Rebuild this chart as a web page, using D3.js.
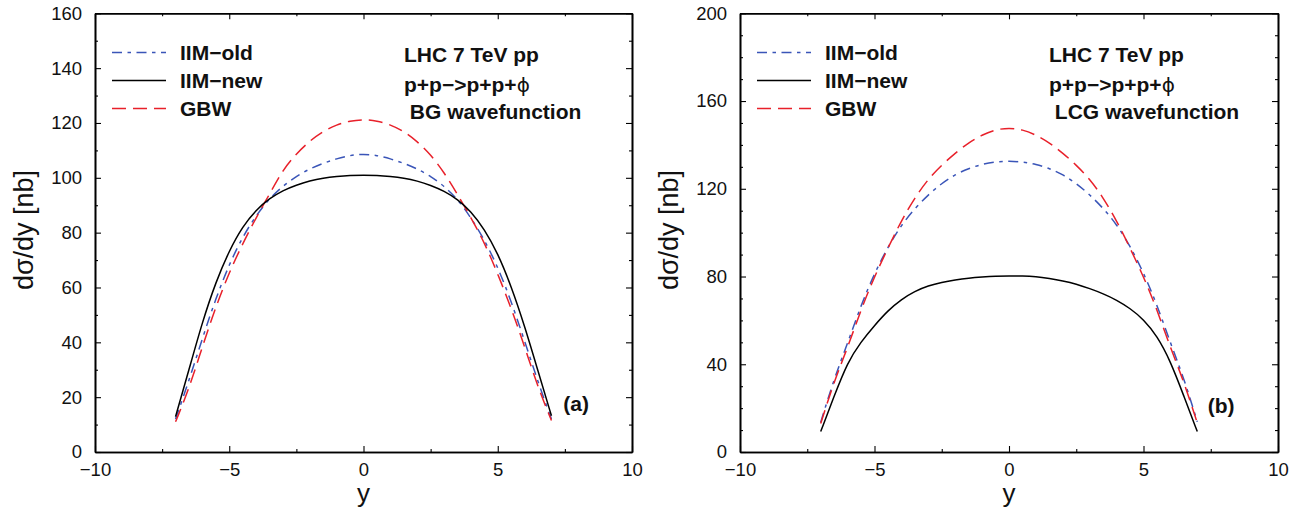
<!DOCTYPE html>
<html>
<head>
<meta charset="utf-8">
<script src="https://cdn.jsdelivr.net/npm/d3@7"></script>
<style>
  html, body { margin: 0; padding: 0; background: #fff; }
  svg { display: block; font-family: "Liberation Sans", Arial, Helvetica, sans-serif; }
</style>
</head>
<body>
<svg id="chart" width="1310" height="509"></svg>
<script>
// ---------------- data ----------------
const rapidity = [-7,-6.5,-6,-5.5,-5,-4.5,-4,-3.5,-3,-2.5,-2,-1.5,-1,-0.5,0,0.5,1,1.5,2,2.5,3,3.5,4,4.5,5,5.5,6,6.5,7];

// Panel (a): BG wavefunction
const bgIIMold = [12,26,41.5,56,68.5,78.5,86.3,92.5,97,100.6,103.3,105.3,107,108.2,108.7,108.2,107,105.3,103.3,100.6,97,92.3,85.5,77.5,67.5,55,40.5,25.5,12];
const bgIIMnew = [12.9,30,47.5,62,73.5,82.3,88.3,92.5,95.4,97.4,98.9,99.9,100.5,100.9,101,100.9,100.5,99.9,98.9,97.3,95.2,92.2,87.8,81.3,72.5,60.5,46,29.5,13.2];
const bgGBW    = [11,23,38.5,53,65.5,76,85.5,94,103,108.8,113.5,117,119.4,120.8,121.3,120.8,119.4,117,113.3,108.5,102,94,85.5,76.5,65,52.5,38.5,23.5,11.5];

// Panel (b): LCG wavefunction
const lcgIIMold = [13.5,33.5,49.5,67,81.5,93.5,103.5,111,117.3,122.5,126.5,129.3,131.2,132.3,132.6,132.3,131.2,129.3,126.5,122.5,117.3,111.2,103.8,94,81.8,67.2,49.7,33.7,13.8];
const lcgIIMnew = [9.3,25.5,41,50.3,57.7,64.5,69.6,73.3,75.8,77.4,78.5,79.3,79.8,80.2,80.3,80.3,80,79.1,78,76.6,74.5,72.2,69.3,65.5,60.5,53,41.5,25.5,9.3];
const lcgGBW    = [13,32.2,47.5,65,80,93,105.5,116,124.5,130.8,136.3,141,144.6,147,147.8,147,144.6,141,136.3,130.8,124.5,116,105.5,93,80,65,47.5,32.2,13.2];

const seriesNames = ["IIM\u2212old", "IIM\u2212new", "GBW"];
const xMajorTicks = [-10,-5,0,5,10];
const xMinorTicks = [-7.5,-2.5,2.5,7.5];
const yMajorTicksA = [0,20,40,60,80,100,120,140,160];
const yMinorTicksA = [10,30,50,70,90,110,130,150];
const yMajorTicksB = [0,40,80,120,160,200];
const yMinorTicksB = [10,20,30,50,60,70,90,100,110,130,140,150,170,180,190];
const annotA = ["LHC 7 TeV pp", "p+p\u2212>p+p+", " BG wavefunction"];
const annotB = ["LHC 7 TeV pp", "p+p\u2212>p+p+", " LCG wavefunction"];

// ---------------- styles ----------------
const styles = [
  { color: "#3a55b8", dash: "10,5.5,3.5,5.5" },
  { color: "#000000", dash: null },
  { color: "#e8202a", dash: "14,7" }
];

const svg = d3.select("#chart");

function panel(opts) {
  const { left, right, top, bottom, yMax, yMajor, yMinor, data, annot, tag, tagX, tagY } = opts;
  const x = d3.scaleLinear().domain([-10, 10]).range([left, right]);
  const y = d3.scaleLinear().domain([0, yMax]).range([bottom, top]);
  const g = svg.append("g");

  g.append("g").attr("transform", `translate(0,${bottom})`)
    .call(d3.axisBottom(x).tickValues(xMajorTicks).tickSize(-6).tickSizeOuter(0).tickPadding(11));
  g.append("g").attr("transform", `translate(0,${bottom})`)
    .call(d3.axisBottom(x).tickValues(xMinorTicks).tickSize(-3).tickSizeOuter(0).tickFormat(""));
  g.append("g").attr("transform", `translate(0,${top})`)
    .call(d3.axisTop(x).tickValues(xMajorTicks).tickSize(-6).tickSizeOuter(0).tickFormat(""));
  g.append("g").attr("transform", `translate(0,${top})`)
    .call(d3.axisTop(x).tickValues(xMinorTicks).tickSize(-3).tickSizeOuter(0).tickFormat(""));
  g.append("g").attr("transform", `translate(${left},0)`)
    .call(d3.axisLeft(y).tickValues(yMajor).tickSize(-6).tickSizeOuter(0).tickPadding(13));
  g.append("g").attr("transform", `translate(${left},0)`)
    .call(d3.axisLeft(y).tickValues(yMinor).tickSize(-3).tickSizeOuter(0).tickFormat(""));
  g.append("g").attr("transform", `translate(${right},0)`)
    .call(d3.axisRight(y).tickValues(yMajor).tickSize(-6).tickSizeOuter(0).tickFormat(""));
  g.append("g").attr("transform", `translate(${right},0)`)
    .call(d3.axisRight(y).tickValues(yMinor).tickSize(-3).tickSizeOuter(0).tickFormat(""));

  g.selectAll(".domain").attr("stroke", "#000").attr("stroke-width", 1.6);
  g.selectAll(".tick line").attr("stroke", "#000").attr("stroke-width", 1.1);
  g.selectAll(".tick text").attr("font-size", "18.5px").attr("fill", "#111")
    .attr("font-family", "'Liberation Sans', Arial, sans-serif");

  const line = d3.line()
    .x((d, i) => x(rapidity[i]))
    .y(d => y(d))
    .curve(d3.curveBasis);
  [0, 2, 1].forEach(k => {
    g.append("path")
      .datum(data[k])
      .attr("d", line)
      .attr("fill", "none")
      .attr("stroke", styles[k].color)
      .attr("stroke-width", 1.5)
      .attr("stroke-dasharray", styles[k].dash);
  });

  const lg = g.append("g");
  seriesNames.forEach((name, k) => {
    const base = 60 + k * 28;
    lg.append("line")
      .attr("x1", left + 17).attr("x2", left + 71)
      .attr("y1", base - 7.5).attr("y2", base - 7.5)
      .attr("stroke", styles[k].color).attr("stroke-width", 1.5)
      .attr("stroke-dasharray", styles[k].dash);
    lg.append("text")
      .attr("x", left + 85).attr("y", base)
      .attr("font-size", "21px").attr("font-weight", "bold")
      .attr("fill", "#111")
      .text(name);
  });

  const ax = left + 309;
  g.append("text").attr("x", ax).attr("y", 62)
    .attr("font-size", "21px").attr("font-weight", "bold").attr("fill", "#111")
    .text(annot[0]);
  const t2 = g.append("text").attr("x", ax).attr("y", 92)
    .attr("font-size", "21px").attr("font-weight", "bold").attr("fill", "#111");
  t2.append("tspan").text(annot[1]);
  t2.append("tspan").attr("font-weight", "normal").attr("font-family", "'DejaVu Sans', sans-serif")
    .attr("font-size", "20px").text("\u03D5");
  g.append("text").attr("x", ax).attr("y", 119)
    .attr("font-size", "21px").attr("font-weight", "bold").attr("fill", "#111")
    .attr("xml:space", "preserve").style("white-space", "pre")
    .text(annot[2]);

  g.append("text").attr("x", x(tagX)).attr("y", y(tagY))
    .attr("font-size", "21px").attr("font-weight", "bold").attr("fill", "#111")
    .text(tag);

  g.append("text")
    .attr("transform", `translate(${left - 62},230) rotate(-90)`)
    .attr("text-anchor", "middle")
    .attr("font-size", "27px").attr("fill", "#111")
    .text("d\u03C3/dy [nb]");
  g.append("text")
    .attr("x", x(0)).attr("y", 502)
    .attr("text-anchor", "middle")
    .attr("font-size", "26px").attr("fill", "#111")
    .text("y");
}

panel({ left: 95, right: 632, top: 13.3, bottom: 452, yMax: 160,
  yMajor: yMajorTicksA, yMinor: yMinorTicksA,
  data: [bgIIMold, bgIIMnew, bgGBW], annot: annotA, tag: "(a)", tagX: 7.44, tagY: 14.8 });

panel({ left: 740, right: 1278, top: 13.3, bottom: 452, yMax: 200,
  yMajor: yMajorTicksB, yMinor: yMinorTicksB,
  data: [lcgIIMold, lcgIIMnew, lcgGBW], annot: annotB, tag: "(b)", tagX: 7.39, tagY: 17.8 });
</script>
</body>
</html>
